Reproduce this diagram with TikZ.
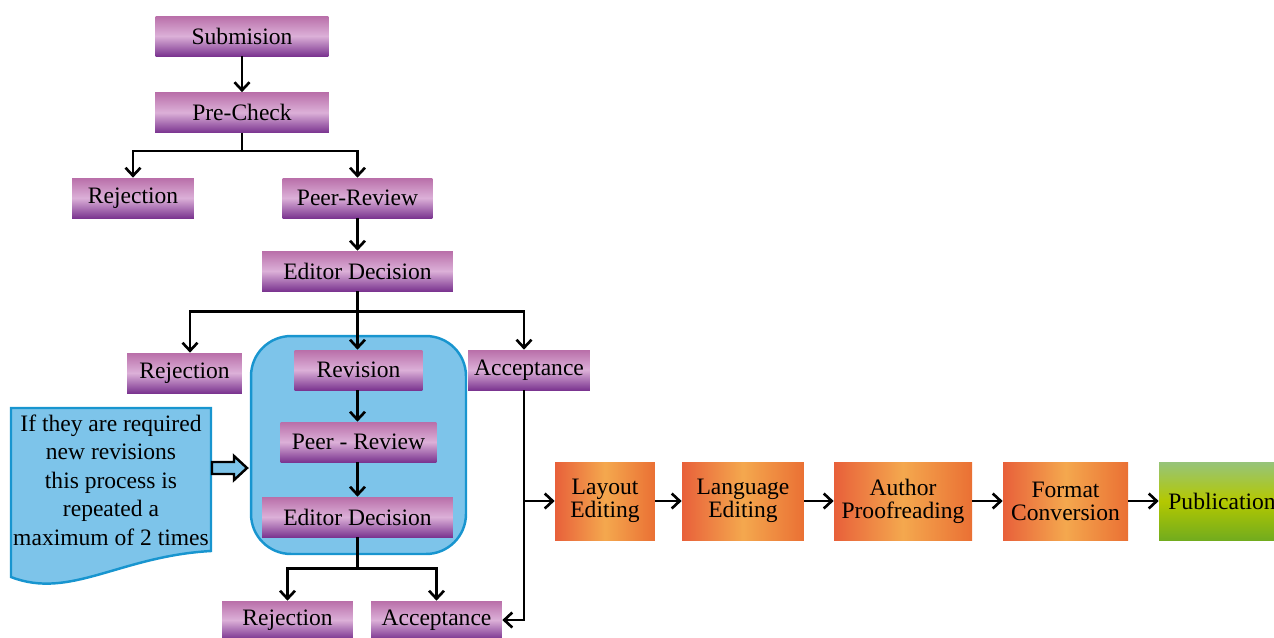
\documentclass[tikz,border=0pt]{standalone}
\usepackage{fontspec}
\setmainfont{Liberation Serif}
\usetikzlibrary{arrows.meta}
\definecolor{purpTop}{HTML}{B96FA9}
\definecolor{purpMid}{HTML}{DCB0D8}
\definecolor{purpBot}{HTML}{7B3590}
\definecolor{orLeft}{HTML}{E8603A}
\definecolor{orMid}{HTML}{F4A84E}
\definecolor{orRight}{HTML}{EA7034}
\definecolor{grTop}{HTML}{96C47A}
\definecolor{grMid}{HTML}{B4C800}
\definecolor{grBot}{HTML}{72AC1E}
\definecolor{loopFill}{HTML}{7DC4EA}
\definecolor{loopLine}{HTML}{1895CF}
\tikzset{
	pbox/.style={minimum height=0.8cm, inner sep=0pt, top color=purpTop, bottom color=purpBot, middle color=purpMid, font=\fontsize{13.4}{14}\selectfont},
	obox/.style={minimum height=1.56cm, inner sep=0pt, align=center, left color=orLeft, right color=orRight, middle color=orMid, font=\fontsize{13.4}{13.2}\selectfont},
	gbox/.style={minimum height=1.56cm, inner sep=0pt, top color=grTop, bottom color=grBot, middle color=grMid, font=\fontsize{13.4}{14}\selectfont},
	arr/.style={line width=1.5pt, -{Straight Barb[length=1.6mm,width=3mm]}}
}
\begin{document}
\begin{tikzpicture}[x=0.02cm, y=-0.02cm]
		%%%%% START %%%%%
		\useasboundingbox (0,0) rectangle (1274,637);
		
		% review loop background
		\node[draw=loopLine, fill=loopFill, line width=1.4pt, rounded corners=0.8cm, minimum width=4.3cm, minimum height=4.36cm] (loop) at (358.5,445) {};
		
		% note with wavy bottom
		\draw[draw=loopLine, fill=loopFill, line width=1.4pt] (11,408) -- (211,408) -- (211,551) .. controls (120,556) and (70,600) .. (11,577) -- cycle;
		\node[align=center, font=\fontsize{13.4}{16.2}\selectfont] (note) at (111,480) {If they are required\\new revisions\\this process is\\repeated a\\maximum of 2 times};
		\draw[line width=1.4pt, fill=loopFill] (212,462) -- (234,462) -- (234,456) -- (247,468) -- (234,480) -- (234,474) -- (212,474) -- cycle;
		
		% first round
		\node[pbox, minimum width=3.46cm] (sub) at (242,36) {Submision};
		\node[pbox, minimum width=3.48cm] (pre) at (242,112.5) {Pre-Check};
		\node[pbox, minimum width=2.44cm] (rejA) at (133,198) {Rejection};
		\node[pbox, minimum width=3.0cm] (peerA) at (357.5,198) {Peer-Review};
		\node[pbox, minimum width=3.82cm] (edA) at (357.5,271) {Editor Decision};
		
		% second round
		\node[pbox, minimum width=2.3cm] (rejB) at (184.5,373) {Rejection};
		\node[pbox, minimum width=2.56cm] (rev) at (358.5,370) {Revision};
		\node[pbox, minimum width=2.44cm] (accA) at (529,370) {Acceptance};
		\node[pbox, minimum width=3.12cm] (peerB) at (358.5,442) {Peer - Review};
		\node[pbox, minimum width=3.82cm] (edB) at (357.5,517) {Editor Decision};
		\node[pbox, minimum width=2.62cm, minimum height=0.76cm] (rejC) at (287.5,620) {Rejection};
		\node[pbox, minimum width=2.62cm, minimum height=0.76cm] (accB) at (436.5,620) {Acceptance};
		
		% production
		\node[obox, minimum width=2.0cm] (lay) at (605,501) {Layout\\Editing};
		\node[obox, minimum width=2.44cm] (lang) at (743,501) {Language\\Editing};
		\node[obox, minimum width=2.76cm] (proof) at (903,501) {Author\\Proofreading};
		\node[obox, minimum width=2.5cm] (conv) at (1065.5,501) {Format\\Conversion};
		\node[gbox, minimum width=2.52cm] (pub) at (1222,501) {Publication};
		
		% connectors
		\draw[arr] (sub) -- (pre);
		\draw[arr] (pre.south) -- ++(0,18) -| (rejA.north);
		\draw[arr] (pre.south) -- ++(0,18) -| (peerA.north);
		\draw[arr] (peerA) -- (edA);
		\draw[arr] (edA.south) -- ++(0,20) -| ([xshift=0.11cm]rejB.north);
		\draw[arr] (edA.south) -- (edA.south |- rev.north);
		\draw[arr] (edA.south) -- ++(0,20) -| ([xshift=-0.1cm]accA.north);
		\draw[arr] (rev.south -| edA.south) -- (peerB.north -| edA.south);
		\draw[arr] (peerB.south -| edA.south) -- (edB);
		\draw[arr] (edB.south) -- ++(0,31) -| (rejC.north);
		\draw[arr] (edB.south) -- ++(0,31) -| (accB.north);
		\draw[arr] ([xshift=-0.1cm]accA.south) |- (accB.east);
		\draw[arr] ([xshift=-0.1cm]accA.south |- lay.west) -- (lay.west);
		\draw[arr] (lay) -- (lang);
		\draw[arr] (lang) -- (proof);
		\draw[arr] (proof) -- (conv);
		\draw[arr] (conv) -- (pub);
		
		%%%%% END %%%%%
	\end{tikzpicture}
\end{document}
